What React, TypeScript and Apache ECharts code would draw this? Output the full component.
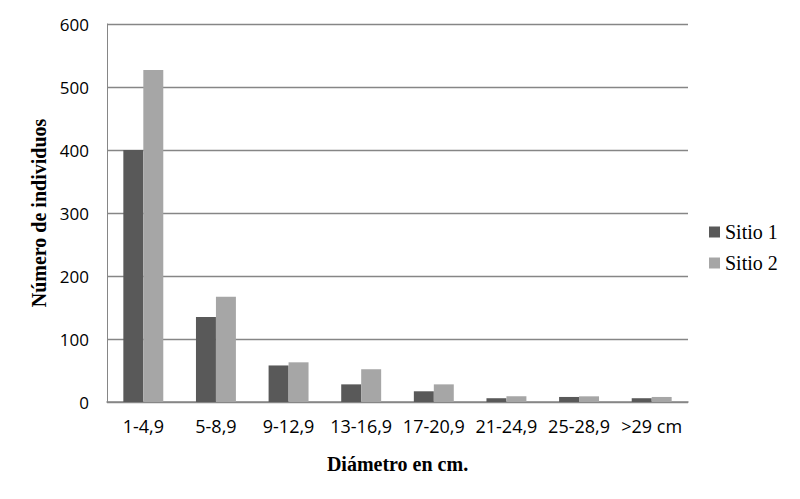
import { useEffect, useRef } from "react";
import * as echarts from "echarts";

const categories = ["1-4,9", "5-8,9", "9-12,9", "13-16,9", "17-20,9", "21-24,9", "25-28,9", ">29 cm"];
const sitio1 = [400, 135, 58, 28, 17, 6, 8, 6];
const sitio2 = [527, 167, 63, 52, 28, 9, 9, 8];
const yTicks = { min: 0, max: 600, interval: 100 };

const serif = "'Liberation Serif', 'Times New Roman', serif";
const sans = "'Open Sans', 'Noto Sans', sans-serif";

export default function App() {
  const chartRef = useRef<HTMLDivElement>(null);

  useEffect(() => {
    document.body.style.margin = "0";
    if (!chartRef.current) return;
    const chart = echarts.init(chartRef.current, undefined, { renderer: "svg" });

    const option: echarts.EChartsOption = {
      animation: false,
      backgroundColor: "#ffffff",
      grid: { left: 107, top: 24, right: 112, bottom: 97 },
      legend: {
        orient: "vertical",
        left: 704,
        top: 217,
        itemWidth: 11,
        itemHeight: 11,
        itemGap: 11,
        icon: "rect",
        textStyle: { fontFamily: serif, fontSize: 20, color: "#000" },
        data: ["Sitio 1", "Sitio 2"],
      },
      xAxis: {
        type: "category",
        data: categories,
        name: "Diámetro en cm.",
        nameLocation: "middle",
        nameGap: 52,
        nameTextStyle: { fontFamily: serif, fontSize: 20, fontWeight: "bold", color: "#000" },
        axisLine: { lineStyle: { color: "#868686", width: 1.5 } },
        axisTick: { show: false },
        axisLabel: { fontFamily: sans, fontSize: 18, color: "#000", margin: 15, interval: 0 },
      },
      yAxis: {
        type: "value",
        min: yTicks.min,
        max: yTicks.max,
        interval: yTicks.interval,
        name: "Número de individuos",
        nameLocation: "middle",
        nameGap: 56,
        nameTextStyle: { fontFamily: serif, fontSize: 20, fontWeight: "bold", color: "#000" },
        axisLine: { show: true, lineStyle: { color: "#868686", width: 1 } },
        axisTick: { show: false },
        axisLabel: { fontFamily: sans, fontSize: 17, color: "#000", margin: 18 },
        splitLine: { lineStyle: { color: "#868686", width: 1.3 } },
      },
      series: [
        {
          name: "Sitio 1",
          type: "bar",
          data: sitio1,
          barGap: "0%",
          barCategoryGap: "45%",
          itemStyle: { color: "#595959" },
        },
        {
          name: "Sitio 2",
          type: "bar",
          data: sitio2,
          barGap: "0%",
          barCategoryGap: "45%",
          itemStyle: { color: "#a6a6a6" },
        },
      ],
    };

    chart.setOption(option);
    return () => chart.dispose();
  }, []);

  return (
    <div
      style={{
        width: 800,
        height: 499,
        boxSizing: "border-box",
        border: "1px solid #8a8a8a",
        position: "relative",
      }}
    >
      <div ref={chartRef} style={{ position: "absolute", left: -1, top: -1, width: 800, height: 499 }} />
    </div>
  );
}
